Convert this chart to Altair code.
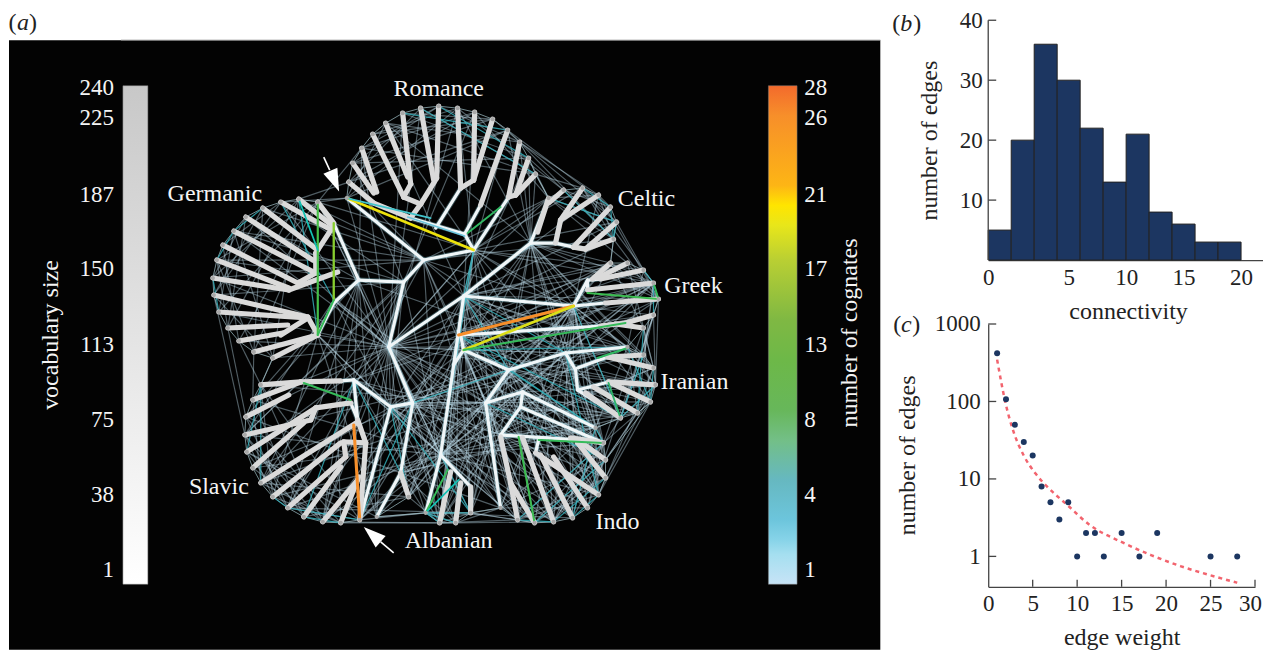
import altair as alt
import pandas as pd

FONT = "Liberation Serif"

# ---------- panel (a): leaves and hubs of the language network
node_x = [346,348,352,361,372,385,402,420,438,457,474,492,507,519,528,535,
          548,563,582,598,610,616,613,
          610,627,643,653,658,
          653,643,627,643,653,655,650,637,620,
          595,603,605,605,598,587,572,553,534,517,500,
          470,455,439,425,408,376,
          359,340,322,303,287,272,260,252,246,244,245,252,260,
          272,253,238,227,218,213,212,216,222,233,245,262,280,298,317,
          388,423,473,530,463,573,458,463,508,485,440,412,358,333,333,353,390,403,565,522,500,400,317]
node_y = [198,182,163,148,134,123,113,108,106,108,112,119,130,142,158,174,
          198,190,188,195,207,222,239,
          263,263,270,283,299,
          315,328,347,355,368,385,402,413,418,
          428,443,460,478,495,508,518,522,523,520,508,
          513,523,523,513,497,517,
          520,523,522,517,508,497,483,468,452,435,417,400,385,
          358,352,341,328,312,295,278,260,245,231,217,208,202,199,202,
          347,260,250,243,296,306,335,350,370,403,455,403,280,300,223,380,407,282,353,392,435,473,335]
leaf_count = 82
rim_runs = [(0,15),(16,22),(23,27),(28,36),(37,47),(48,51),(52,53),(54,66),(67,81)]
rim_extra = [(15,16),(22,23),(27,28),(36,37),(47,48),(34,39),(51,53),(66,67)]

faint_edges = [
 (0,5),(0,9),(1,7),(1,12),(2,8),(2,14),(3,10),(3,15),(4,11),(5,13),(6,14),(7,15),(8,13),(0,12),(1,10),(2,11),(4,9),(5,15),(6,11),(3,8),
 (16,19),(16,21),(17,20),(17,22),(18,21),(19,22),(16,22),(18,22),(23,26),(24,27),(23,27),(25,27),
 (28,31),(28,33),(29,34),(30,35),(31,36),(32,35),(33,36),(29,32),(30,33),(28,36),
 (37,41),(37,44),(38,42),(38,46),(39,44),(39,47),(40,45),(41,46),(42,47),(43,37),(44,38),(45,39),(46,40),(37,47),(38,45),(39,43),
 (48,50),(48,51),(49,51),
 (54,58),(54,62),(55,60),(55,64),(56,61),(56,66),(57,63),(57,65),(58,64),(59,66),(60,65),(54,66),(56,63),(58,62),(55,59),(59,63),
 (67,72),(67,76),(68,74),(68,78),(69,75),(69,81),(70,77),(70,80),(71,76),(71,81),(72,78),(72,79),(73,80),(74,81),(75,79),(68,81),(67,80),(70,74),(73,77),
 (81,0),(81,3),(80,1),(79,0),(81,84),(80,83),(78,83),(76,99),(77,94),
 (67,66),(68,65),(70,64),(72,63),(69,66),(104,97),(104,64),(95,63),(94,65),(94,60),(104,59),(95,55),(94,98),
 (99,72),(83,73),(94,74),(99,79),(82,71),(82,69),(82,67),(82,104),(82,81),(82,95),
 (82,98),(82,54),(82,53),(82,52),(82,50),(82,47),(82,92),(82,91),(82,102),(82,44),(82,41),(82,37),(82,30),(82,22),(82,87),(82,84),(82,0),(82,9),(82,58),(82,62),(82,65),(82,16),(82,100),(82,89),(82,26),
 (83,86),(83,87),(83,88),(83,100),(83,91),(83,16),(83,22),(84,86),(84,87),(84,26),(84,18),(84,21),(84,16),(84,89),(84,90),(84,36),(84,88),(84,92),(84,82),
 (85,87),(85,26),(85,27),(85,23),(85,100),(85,32),(85,88),(85,90),(85,89),(85,36),(85,37),(85,15),(85,12),(85,9),(85,5),
 (86,23),(86,25),(86,21),(86,27),(86,30),(86,88),(86,90),(86,37),(86,41),(86,46),(86,14),(86,10),(86,5),(86,82),(86,98),(86,93),
 (87,30),(87,34),(87,36),(87,37),(87,90),(87,91),(87,100),(87,101),(87,92),(87,46),(87,43),(87,19),
 (88,23),(88,30),(88,33),(88,38),(88,45),(88,48),(88,50),(88,97),(88,93),(89,28),(89,31),(89,37),(89,39),(89,47),(89,102),(89,91),(89,54),(89,52),(89,98),
 (90,33),(90,34),(90,39),(90,43),(90,101),(90,102),(90,98),(90,93),(90,48),(91,36),(91,38),(91,42),(91,44),(91,48),(91,50),(91,93),(91,98),(91,52),(91,103),(91,54),
 (92,30),(92,37),(92,38),(92,44),(92,98),(92,97),(92,53),(92,54),(92,103),(92,100),(92,101),
 (93,48),(93,50),(93,45),(93,41),(93,34),(93,100),(93,55),(97,54),(97,56),(97,102),(97,50),(98,51),(98,49),(98,43),(98,39),(98,31),(98,100),(103,51),(103,49),(103,47),(103,37),(103,36),
 (54,51),(53,51),(52,50),(56,50),(55,49),(57,52),(60,52),(62,53),(64,103),(66,91),(65,92),(63,90),(61,102),(59,92),(58,48),
 (47,48),(47,49),(46,50),(45,48),(44,49),(43,51),(48,46),
 (27,33),(26,31),(25,30),(23,29),(24,32),(27,36),(26,35),(19,27),(22,23),(21,25),(22,27),(16,24),(18,26),(15,16),(14,17),(13,19),
 (15,18),(14,16),(12,20),(11,21),(13,22),(9,17),(10,16),
 (36,37),(34,38),(35,39),(33,40),(32,41),(30,37),(29,38),(28,42),(34,41),(36,44),(33,39),(100,38),(100,39),(100,45),(101,38),(101,40),(101,44),(102,37),(102,43),(102,46),(100,26),(100,23),
 (0,83),(1,83),(5,84),(9,84),(12,84),(10,99),(7,82),(3,94),(2,99),(13,85),(14,85),
 # denser fans through the middle of the figure
 (86,31),(86,33),(86,35),(86,39),(86,43),(86,48),(86,50),(86,44),(86,19),(86,24),(88,25),(88,27),(88,35),(88,40),(88,42),(88,46),(88,49),(88,52),(88,54),(88,56),
 (89,23),(89,26),(89,33),(89,35),(89,41),(89,43),(89,45),(89,50),(89,56),(90,27),(90,30),(90,36),(90,41),(90,45),(90,50),(90,52),(90,54),(90,23),
 (91,30),(91,33),(91,40),(91,46),(91,23),(91,26),(91,56),(91,60),(92,32),(92,34),(92,41),(92,46),(92,26),(92,58),(92,63),(92,81),
 (93,37),(93,30),(93,26),(93,42),(93,47),(93,58),(93,61),(98,35),(98,45),(98,26),(98,60),(98,57),(97,46),(97,44),(97,38),(97,26),
 (100,40),(100,42),(100,43),(100,47),(100,52),(101,33),(101,36),(101,42),(101,46),(101,48),(101,27),(102,32),(102,35),(102,40),(102,41),(102,50),(102,26),
 (87,38),(87,39),(87,41),(87,44),(87,47),(87,50),(87,28),(87,32),(87,26),
 (82,24),(82,28),(82,33),(82,39),(82,43),(82,46),(82,49),(82,56),(82,60),(82,64),(82,76),(82,73),(82,77),(82,79),(82,3),(82,6),
 (99,56),(99,60),(99,63),(99,97),(99,98),(99,92),(94,56),(94,58),(94,53),(94,97),(94,92),(94,100),(104,53),(104,92),(104,98),(95,98),(95,82),(95,91),
 (83,96),(83,74),(83,76),(83,58),(83,63),(83,50),(83,47),(84,30),(84,41),(84,47),(84,50),(84,25),(85,41),(85,44),(85,48),(85,52),(85,31),(85,33),
]
teal_edges = [
 (12,6),(14,8),(15,7),(16,21),(17,22),(18,20),(20,22),(16,85),(22,21),
 (25,26),(26,28),(29,35),(31,36),(33,36),(30,34),(32,34),
 (37,43),(38,46),(39,45),(40,44),(41,43),(44,46),(37,38),
 (88,92),(86,100),(87,36),(86,90),(84,92),(84,86),
 (48,51),(49,51),(50,51),(54,58),(57,55),(59,58),(60,66),(62,66),(97,103),(98,52),(93,54),
 (80,104),(79,95),(81,104),(78,76),(71,73),(74,76),(92,48),(90,37),(88,37),
 (91,39),(100,41),(88,36),(89,30),(98,48),(97,57),(93,90),
]

# weighted cognate links: x, y, x2, y2, weight
strong_x  = [346,346,317,333,333,467,587,653,573,573,463,303,353,425,425,518,538,597,608,298,407]
strong_y  = [198,198,202,223,300,233,293,283,306,306,350,383,425,513,513,437,440,358,383,199,217]
strong_x2 = [473,430,317,333,317,500,658,658,458,463,625,350,359,447,458,534,603,627,620,317,464]
strong_y2 = [250,218,335,300,335,207,299,299,335,350,323,400,520,470,480,523,443,348,418,250,236]
strong_w  = [20,5,12,15,10,9,11,10,26,19,10,10,26,10,6,11,10,9,8,6,4]

# tree: tips (thick grey) and trunks (white), as polylines
tip_paths = [
 [(348,182),(373,203),(410,218)],[(352,163),(373,193)],[(361,148),(376,192)],
 [(438,106),(436,178),(420,204),(410,218)],[(420,108),(433,180)],[(420,204),(403,197)],
 [(402,113),(410,184),(403,197)],[(385,123),(407,177)],[(372,134),(403,197)],
 [(457,108),(460,188)],[(474,112),(473,180),(460,188)],[(492,119),(473,180)],
 [(507,130),(480,205)],[(519,142),(508,197)],[(528,158),(515,195),(508,197)],[(535,174),(515,195)],
 [(548,198),(537,232)],[(563,190),(548,203)],[(582,188),(560,220)],[(598,195),(560,220),(555,243)],
 [(610,207),(573,247)],[(616,222),(585,249)],[(613,239),(585,249),(573,247)],
 [(610,263),(592,279)],[(627,263),(597,278)],[(643,270),(600,279)],[(653,283),(587,290)],[(658,299),(605,303)],
 [(653,315),(625,323),(600,326)],[(643,328),(615,324)],
 [(643,355),(607,357)],[(653,368),(607,357)],[(655,385),(608,382)],[(650,402),(608,382)],[(637,413),(593,387)],[(620,418),(585,393)],
 [(577,440),(605,460)],[(577,443),(605,478)],[(603,443),(570,438)],[(598,495),(535,453)],[(587,508),(553,457)],[(572,518),(540,455)],
 [(553,522),(522,438)],[(517,520),(510,483),(500,437)],[(534,523),(510,483)],
 [(470,513),(470,487)],[(455,523),(460,483)],[(439,523),(450,472)],
 [(408,497),(400,473)],[(359,520),(363,470)],
 [(260,385),(300,382),(340,381)],[(252,400),(300,382)],[(245,417),(288,395)],
 [(244,435),(310,420),(315,408),(350,403)],[(246,452),(315,408)],[(252,468),(303,423)],[(260,483),(357,422)],
 [(365,443),(343,442),(345,457)],[(272,497),(340,443)],[(287,508),(345,457)],[(303,517),(340,467)],
 [(322,522),(357,480)],[(340,523),(358,477)],[(357,420),(365,443),(363,470)],
 [(317,202),(333,223)],[(298,199),(332,226)],[(280,202),(327,228)],[(262,208),(317,250)],[(245,217),(312,260)],[(233,231),(313,272)],
 [(332,227),(315,253),(315,273),(297,283)],[(222,245),(297,283)],[(216,260),(288,288)],[(212,278),(288,290),(337,272)],
 [(213,295),(307,317),(317,335)],[(218,312),(307,318)],[(227,328),(287,325)],[(238,341),(282,333)],[(253,352),(317,335)],
 [(307,318),(280,335)],[(272,358),(317,335)],
]
trunk_paths = [
 [(388,347),(403,282),(358,280),(333,223)],[(403,282),(423,260),(473,250)],[(358,280),(333,303),(317,335)],
 [(346,198),(423,260)],[(473,250),(464,234),(410,218)],[(473,250),(508,197)],[(464,234),(480,205)],[(460,188),(435,228)],
 [(388,347),(463,296),(530,243),(555,243),(573,247),(585,249)],[(530,243),(548,198)],[(555,243),(560,220)],
 [(463,296),(440,455)],[(463,296),(573,306),(605,303)],[(573,306),(587,280),(600,279)],[(587,280),(587,290)],
 [(460,335),(600,326)],[(460,335),(463,350),(508,370),(565,353),(627,347)],[(463,350),(453,365)],
 [(565,353),(575,370),(577,390),(608,382)],[(577,368),(607,357)],[(577,390),(620,418)],
 [(508,370),(485,403),(522,392),(595,428)],[(522,392),(520,407),(603,443)],[(520,407),(500,435),(577,440)],
 [(485,403),(500,508)],[(538,440),(535,453)],
 [(440,455),(425,513)],[(440,455),(470,487)],
 [(388,347),(412,403),(390,407),(360,517)],[(412,403),(400,473),(376,517)],[(390,407),(353,380),(340,381)],
 [(353,380),(357,420)],[(357,420),(350,403)],
]

# labels of panel (a)
family_names = ["Romance","Germanic","Celtic","Greek","Iranian","Indo","Albanian","Slavic"]
family_x = [438,214,646,693,694,617,448,218]
family_y = [89,194,199,286,382,522,541,487]
vocab_ticks = ["240","225","187","150","113","75","38","1"]
cog_ticks = ["28","26","21","17","13","8","4","1"]
tick_y = [88,118,195,269,345,420,495,570]
arrow_x = [334,371.5]
arrow_y = [181,534.5]
arrow_angle = [157,311]
tail_x = [323,380]; tail_y = [157,542]; tail_x2 = [329,393]; tail_y2 = [170,553]

# panel (b)
bin_start = [-2,0,2,4,6,8,10,12,14,16,18]
bin_end = [0,2,4,6,8,10,12,14,16,18,20]
edge_counts = [5,20,36,30,22,13,21,8,6,3,3]
# panel (c)
weight_x = [1,2,3,4,5,6,7,8,9,10,11,12,13,15,17,19,25,28]
weight_n = [420,107,50,30,20,8,5,3,5,1,2,2,1,2,1,2,1,1]
fit_x = [1,1.95,2.9,4,5.3,6.6,8.9,11.5,14.9,18.3,21.6,25,28]
fit_n = [347,95,39,20,11.8,8,4.6,2.5,1.55,1.04,.75,.57,.457]

# ---------- build panel (a)
sx = alt.Scale(domain=[8,880], nice=False, zero=False)
sy = alt.Scale(domain=[650,8], nice=False, zero=False)
X = lambda f: alt.X(f, type="quantitative", scale=sx, axis=None)
Y = lambda f: alt.Y(f, type="quantitative", scale=sy, axis=None)

def link_df(pairs):
    return pd.DataFrame({"x":[node_x[a] for a,b in pairs],"y":[node_y[a] for a,b in pairs],
                         "x2":[node_x[b] for a,b in pairs],"y2":[node_y[b] for a,b in pairs]})

def rule(df, **kw):
    return alt.Chart(df).mark_rule(**kw).encode(x=X("x"),y=Y("y"),x2="x2:Q",y2="y2:Q")

def seg_df(paths):
    rows = []
    for p in paths:
        for (a,b),(c,d) in zip(p[:-1],p[1:]):
            rows.append({"x":a,"y":b,"x2":c,"y2":d})
    return pd.DataFrame(rows)

rim_pairs = [(i,i+1) for s,e in rim_runs for i in range(s,e)] + rim_extra

black = pd.DataFrame({"x":[8],"x2":[880],"y":[40],"y2":[650]})
bg = alt.Chart(black).mark_rect(color="#030303").encode(x=X("x"),y=Y("y"),x2="x2:Q",y2="y2:Q")
top_line = pd.DataFrame({"x":[120],"x2":[880],"y":[40],"y2":[40]})

bar_cols = ["#f36a2c","#f78f2a","#fdb515","#ffe500","#e8e61a","#b9cf33","#7fb843","#6db848","#67b75a","#73bf86","#66b8c0","#6cc5dc","#86d3e8","#a5dff0","#c7e3f6"]
bar_pos = [0,.06,.2,.24,.28,.35,.47,.55,.65,.71,.79,.87,.91,.94,1]
cbar = alt.Chart(pd.DataFrame({"x":[768],"x2":[796.7],"y":[85.5],"y2":[584.5]})).mark_rect(
    stroke="#777", strokeWidth=.5,
    color=alt.LinearGradient(gradient="linear",x1=0,x2=0,y1=0,y2=1,
        stops=[alt.GradientStop(offset=o,color=c) for o,c in zip(bar_pos,bar_cols)])
).encode(x=X("x"),y=Y("y"),x2="x2:Q",y2="y2:Q")
vbar = alt.Chart(pd.DataFrame({"x":[122],"x2":[147],"y":[85.5],"y2":[584.5]})).mark_rect(
    stroke="#777", strokeWidth=.5,
    color=alt.LinearGradient(gradient="linear",x1=0,x2=0,y1=0,y2=1,
        stops=[alt.GradientStop(offset=0,color="#c8c8c8"),alt.GradientStop(offset=1,color="#ffffff")])
).encode(x=X("x"),y=Y("y"),x2="x2:Q",y2="y2:Q")

strong_df = pd.DataFrame({"x":strong_x,"y":strong_y,"x2":strong_x2,"y2":strong_y2,"w":strong_w})
strong = alt.Chart(strong_df).mark_rule(strokeCap="round").encode(
    x=X("x"),y=Y("y"),x2="x2:Q",y2="y2:Q",
    color=alt.Color("w:Q",legend=None,scale=alt.Scale(domain=[1,4,8,13,17,21,26,28],
        range=["#c7e3f6","#6cc5dc","#2fb56a","#4cc23a","#b9d82b","#ffe500","#f78f2a","#f36a2c"])),
    size=alt.Size("w:Q",legend=None,scale=alt.Scale(domain=[1,28],range=[1.4,3.2])))

def labels(xs,ys,texts,align="center",size=24,angle=None):
    df = pd.DataFrame({"x":xs,"y":ys,"t":texts})
    kw = {} if angle is None else {"angle":angle}
    return alt.Chart(df).mark_text(color="#f5f5f5",font=FONT,fontSize=size,align=align,baseline="middle",**kw).encode(
        x=X("x"),y=Y("y"),text="t:N")

leaves_df = pd.DataFrame({"x":node_x[:leaf_count],"y":node_y[:leaf_count]})
dots = alt.Chart(leaves_df).mark_circle(size=18,color="#a8a8a8",opacity=1).encode(x=X("x"),y=Y("y"))
arrows = alt.Chart(pd.DataFrame({"x":arrow_x,"y":arrow_y,"a":arrow_angle})).mark_point(
    shape="M0,-1L-0.68,1L0.68,1Z",filled=True,color="white",opacity=1,size=500).encode(
    x=X("x"),y=Y("y"),angle=alt.Angle("a:Q",scale=None))
tails = rule(pd.DataFrame({"x":tail_x,"y":tail_y,"x2":tail_x2,"y2":tail_y2}),color="white",strokeWidth=1.6)

def tag_a(xs, y, texts):
    parts = []
    for px, t in zip(xs, texts):
        style = "italic" if t not in "()" else "normal"
        parts.append(alt.Chart(pd.DataFrame({"x":[px],"y":[y],"t":[t]})).mark_text(
            color="#222",font=FONT,fontSize=24,fontStyle=style,baseline="middle").encode(x=X("x"),y=Y("y"),text="t:N"))
    return parts

panel_a = alt.layer(
    bg,
    rule(top_line,color="#888",strokeWidth=1),
    vbar, cbar,
    rule(link_df(faint_edges),color="#bcdcea",strokeWidth=1.15,opacity=.42),
    rule(link_df(rim_pairs),color="#a3c4cc",strokeWidth=1,opacity=.7),
    rule(link_df(teal_edges),color="#35aeb8",strokeWidth=1.2,opacity=.85),
    rule(seg_df(trunk_paths),color="#8fd6e6",strokeWidth=5,opacity=.35),
    rule(seg_df(trunk_paths),color="#f0f6f8",strokeWidth=3.2,strokeCap="round"),
    rule(seg_df(tip_paths),color="#dadada",strokeWidth=5.2,strokeCap="round"),
    strong, dots, tails, arrows,
    labels(family_x,family_y,family_names),
    labels([113]*8,tick_y,vocab_ticks,align="right",size=23),
    labels([804]*8,tick_y,cog_ticks,align="left",size=23),
    labels([50],[335],["vocabulary size"],size=24,angle=270),
    labels([850],[333],["number of  cognates"],size=24,angle=270),
    *tag_a([11.5,22,32],23,["(","a",")"]),
).properties(width=872,height=642)

# ---------- panel (b)
AX = dict(labelFont=FONT,labelFontSize=23,labelColor="#222",titleFont=FONT,titleFontSize=24,titleColor="#222",
          titleFontWeight="normal",grid=False,ticks=False,domainColor="#444",domainWidth=1.3)
bx = alt.Scale(domain=[-2,21.91],nice=False,zero=False)
by = alt.Scale(domain=[0,42],nice=False)
by_axis = alt.Axis(values=[10,20,30,40],domain=False,labelPadding=6,titlePadding=18,titleY=132,**AX)
bdf = pd.DataFrame({"s":bin_start,"e":bin_end,"n":edge_counts,"z":[0]*len(edge_counts)})
YB = lambda f: alt.Y(f,type="quantitative",scale=by,title="number of edges",axis=by_axis)
bars = alt.Chart(bdf).mark_rect(color="#1c3661",stroke="#222",strokeWidth=1).encode(
    x=alt.X("s:Q",scale=bx,title="connectivity",axis=alt.Axis(values=[-2,5,10,15,20],
        labelExpr="datum.value==-2?'0':datum.label",labelPadding=6,titlePadding=10,labelOverlap=False,labelFlush=False,titleX=140,**AX)),
    x2="e:Q",y=YB("n"),y2="z:Q")
b_ticks = alt.Chart(pd.DataFrame({"v":[10,20,30,40]})).mark_rule(color="#444",strokeWidth=1.3).encode(
    x=alt.value(0),x2=alt.value(8),y=YB("v"))
b_line = alt.Chart(pd.DataFrame({"a":[0],"b":[40]})).mark_rule(color="#444",strokeWidth=1.3).encode(
    x=alt.value(0),y=YB("a"),y2="b:Q")

def tag(xs,y,texts):
    parts = []
    for px, t in zip(xs, texts):
        style = "italic" if t not in "()" else "normal"
        parts.append(alt.Chart(pd.DataFrame({"t":[t]})).mark_text(color="#222",font=FONT,fontSize=24,fontStyle=style,baseline="middle").encode(
            text="t:N",x=alt.value(px),y=alt.value(y)))
    return parts
panel_b = alt.layer(bars,b_line,b_ticks,*tag([-92,-82,-71],16,["(","b",")"])).properties(width=275,height=252)

# ---------- panel (c)
cx = alt.Scale(domain=[0,30],nice=False,zero=False)
cy = alt.Scale(type="log",domain=[0.405,1000],nice=False)
cx_axis = alt.Axis(values=[0,5,10,15,20,25,30],labelPadding=6,titlePadding=10,labelFlush=False,
                   labelOffset={"condition":{"test":"datum.value==30","value":-5},"value":0},**AX)
cy_axis = alt.Axis(values=[1,10,100,1000],format="d",labelPadding=8,titlePadding=15,titleY=131,**AX)
XC = lambda f: alt.X(f,type="quantitative",scale=cx,title="edge weight",axis=cx_axis)
YC = lambda f: alt.Y(f,type="quantitative",scale=cy,title="number of edges",axis=cy_axis)
scatter = alt.Chart(pd.DataFrame({"x":weight_x,"n":weight_n})).mark_circle(size=36,color="#1c3661",opacity=1).encode(x=XC("x"),y=YC("n"))
fit = alt.Chart(pd.DataFrame({"x":fit_x,"n":fit_n})).mark_line(color="#f2646e",strokeWidth=2.5,strokeDash=[4,4],interpolate="monotone").encode(x=XC("x"),y=YC("n"))
c_yt = alt.Chart(pd.DataFrame({"v":[1,10,100,1000]})).mark_rule(color="#444",strokeWidth=1.3).encode(
    x=alt.value(0),x2=alt.value(8),y=YC("v"))
c_xt = alt.Chart(pd.DataFrame({"v":[5,10,15,20,25,30]})).mark_rule(color="#444",strokeWidth=1.3).encode(
    x=XC("v"),y=alt.value(263),y2=alt.value(256))
panel_c = alt.layer(fit,scatter,c_yt,c_xt,*tag([-91,-82,-72],1,["(","c",")"])).properties(width=267,height=263)

right = alt.vconcat(panel_b,panel_c,spacing=64,bounds="flush")
chart = alt.hconcat(panel_a,right,spacing=108,bounds="flush").properties(padding=0,background="white").configure_view(strokeWidth=0)
chart.save("out.html", embed_options={"renderer": "svg", "actions": False})
